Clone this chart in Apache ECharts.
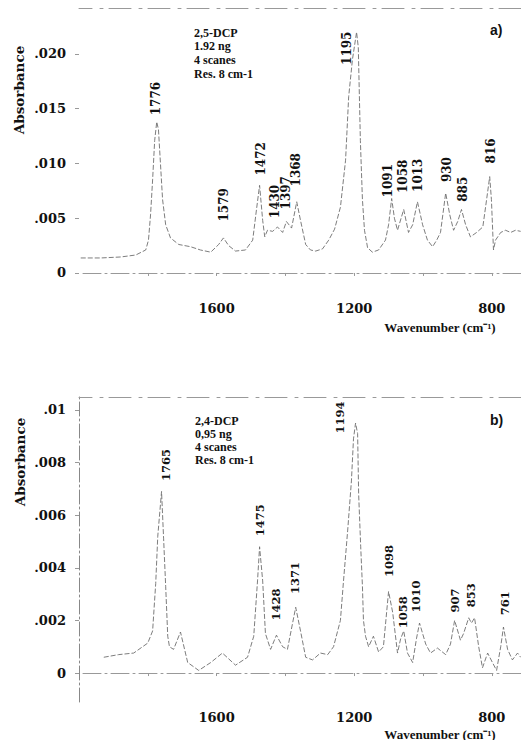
<!DOCTYPE html>
<html><head><meta charset="utf-8">
<script src="https://cdn.jsdelivr.net/npm/echarts@6/dist/echarts.min.js"></script>
<style>html,body{margin:0;padding:0;background:#fff}#c{width:521px;height:740px}</style>
</head><body><div id="c"></div>
<script>
// ---- Panel a) 2,5-DCP ----
const wavenumbersA = [1995,1937,1879,1835,1806,1798,1792,1786,1780,1774,1769,1763,1757,1748,1734,1710,1676,1647,1617,1594,1580,1565,1545,1516,1495,1484,1475,1466,1460,1452,1437,1423,1408,1397,1382,1367,1356,1341,1327,1312,1292,1274,1257,1240,1225,1216,1205,1193,1188,1182,1176,1170,1161,1147,1129,1109,1100,1091,1083,1074,1056,1042,1030,1016,1001,987,972,960,949,934,922,911,899,888,876,862,844,826,815,806,801,795,789,774,760,745,731,716];
const absorbanceA = [0.00137,0.00137,0.00146,0.00164,0.0021,0.003,0.0053,0.0085,0.0121,0.0138,0.0131,0.0099,0.0067,0.0044,0.0032,0.0026,0.0024,0.0021,0.0019,0.0026,0.0032,0.0025,0.002,0.0021,0.003,0.0058,0.008,0.0048,0.0033,0.0039,0.0038,0.0042,0.0037,0.0047,0.0041,0.0065,0.0048,0.0026,0.0021,0.002,0.0022,0.003,0.004,0.006,0.0103,0.0161,0.0195,0.022,0.0206,0.0121,0.0067,0.0039,0.0023,0.0019,0.0021,0.003,0.0044,0.0068,0.005,0.0039,0.0058,0.0037,0.0044,0.0065,0.0044,0.003,0.0024,0.003,0.0037,0.0073,0.0053,0.0039,0.0047,0.0058,0.0044,0.0033,0.0037,0.0042,0.0067,0.0088,0.0067,0.0021,0.003,0.0037,0.0039,0.0037,0.0039,0.0038];
const peakLabelsA = ['1776','1579','1472','1430','1397','1368','1195','1091','1058','1013','930','885','816'];
const peakLabelBaseA = [0.0144,0.0047,0.0089,0.005,0.0058,0.0079,0.019,0.0069,0.0073,0.0074,0.0083,0.0065,0.01];
const yTicksA = [0,0.005,0.01,0.015,0.02];
const yTickLabelsA = ['0','.005','.010','.015','.020'];
const infoA = ['2,5-DCP','1.92 ng','4 scanes','Res. 8 cm-1'];

// ---- Panel b) 2,4-DCP ----
const wavenumbersB = [1928,1885,1841,1800,1786,1777,1771,1760,1754,1748,1742,1737,1725,1705,1684,1652,1617,1583,1545,1510,1492,1481,1475,1466,1458,1443,1426,1408,1394,1379,1370,1356,1341,1321,1298,1277,1260,1240,1231,1219,1208,1202,1196,1190,1187,1181,1176,1173,1167,1158,1144,1129,1115,1100,1088,1074,1065,1056,1045,1030,1019,1010,992,978,958,934,920,908,891,882,867,859,850,838,827,812,798,786,774,766,754,740,725,716];
const absorbanceB = [0.0006,0.0007,0.00076,0.00114,0.0016,0.0034,0.0052,0.0069,0.0051,0.0033,0.0014,0.001,0.0009,0.00156,0.0004,0.0001,0.0004,0.00076,0.0003,0.0006,0.0014,0.0035,0.0048,0.0035,0.0015,0.0009,0.00144,0.001,0.0009,0.0019,0.0025,0.0016,0.0006,0.0005,0.00076,0.0007,0.001,0.002,0.0035,0.0054,0.0073,0.0089,0.0095,0.0091,0.0068,0.0048,0.0033,0.002,0.0014,0.001,0.0014,0.0008,0.001,0.0031,0.0023,0.00076,0.0013,0.0016,0.00076,0.0004,0.0013,0.0019,0.0011,0.00076,0.00095,0.0007,0.0011,0.002,0.00125,0.0015,0.0021,0.0019,0.0021,0.001,0.0002,0.00076,0.0004,0.0001,0.001,0.00175,0.0009,0.0005,0.00076,0.0006];
const peakLabelsB = ['1765','1475','1428','1371','1194','1098','1058','1010','907','853','761'];
const peakLabelBaseB = [0.0073,0.0052,0.002,0.003,0.0091,0.00365,0.0017,0.0023,0.0023,0.0025,0.0022];
const yTicksB = [0,0.002,0.004,0.006,0.008,0.01];
const yTickLabelsB = ['0','.002','.004','.006','.008','.01'];
const infoB = ['2,4-DCP','0,95 ng','4 scanes','Res. 8 cm-1'];

// ---- shared x axis ----
const xTicks = [1800,1600,1400,1200,1000,800];
const xTickValues = [1600,1200,800];
const xTickLabels = ['1600','1200','800'];

// ---- layout / style (not data) ----
const labelShiftA = {'1195': -9, '1091': -4, '816': 5};
const labelShiftB = {'1765': 6, '1194': -16, '1010': -4, '853': -3};
const serif = '"DejaVu Serif", serif';
const tnr = '"Liberation Serif", serif';

const chart = echarts.init(document.getElementById('c'), null, {renderer: 'svg'});

function xAxisCfg(gi) {
  return {
    type: 'value', gridIndex: gi, inverse: true, min: 715, max: 2000,
    splitLine: {show: false},
    axisLine: {show: true, lineStyle: {color: '#999', width: 1, type: [18, 4, 2, 4]}},
    axisTick: {show: true, customValues: xTicks, length: 3, lineStyle: {color: '#999'}},
    axisLabel: {customValues: xTickValues, margin: 9, color: '#111',
      fontFamily: serif, fontWeight: 'bold', fontSize: 13,
      formatter: v => xTickLabels[xTickValues.indexOf(v)] ?? ''}
  };
}
function xTopCfg(gi) {
  return {
    type: 'value', gridIndex: gi, inverse: true, min: 715, max: 2000, position: 'top',
    splitLine: {show: false}, axisTick: {show: false}, axisLabel: {show: false},
    axisLine: {show: true, lineStyle: {color: '#999', width: 1, type: [22, 6, 3, 8]}}
  };
}
function yAxisCfg(gi, min, max, ticks, labels, showLine) {
  return {
    type: 'value', gridIndex: gi, min: min, max: max,
    splitLine: {show: false},
    axisLine: {show: showLine, lineStyle: {color: '#888', width: 1, type: [14, 3, 2, 3]}},
    axisTick: {show: true, customValues: ticks, length: 4, lineStyle: {color: '#999'}},
    axisLabel: {customValues: ticks, margin: 13, color: '#111',
      fontFamily: serif, fontWeight: 'bold', fontSize: 13,
      formatter: v => { const i = ticks.findIndex(t => Math.abs(t - v) < 1e-9); return i >= 0 ? labels[i] : ''; }}
  };
}

const lineStyle = {color: '#6e6e6e', width: 0.9, type: [5, 2]};

chart.setOption({
  animation: false,
  backgroundColor: '#fff',
  grid: [
    {left: 79, top: 8, width: 442, height: 285},
    {left: 79, top: 397, width: 442, height: 305}
  ],
  xAxis: [xAxisCfg(0), xTopCfg(0), xAxisCfg(1), xTopCfg(1)],
  yAxis: [
    yAxisCfg(0, -0.00183, 0.0242, yTicksA, yTickLabelsA, false),
    yAxisCfg(1, -0.0011, 0.01049, yTicksB, yTickLabelsB, true)
  ],
  series: [
    {type: 'line', xAxisIndex: 0, yAxisIndex: 0, symbol: 'none', lineStyle: lineStyle,
      data: wavenumbersA.map((w, i) => [w, absorbanceA[i]])},
    {type: 'line', xAxisIndex: 2, yAxisIndex: 1, symbol: 'none', lineStyle: lineStyle,
      data: wavenumbersB.map((w, i) => [w, absorbanceB[i]])}
  ]
});

const graphics = [];
function addPeakLabels(gi, labels, bases, shifts, font) {
  labels.forEach((t, i) => {
    const p = chart.convertToPixel({xAxisIndex: gi * 2, yAxisIndex: gi}, [Number(t), bases[i]]);
    graphics.push({type: 'text', x: p[0] + (shifts[t] || 0), y: p[1], rotation: Math.PI / 2,
      style: {text: t, font: font, fill: '#111', align: 'left', verticalAlign: 'middle'}});
  });
}
addPeakLabels(0, peakLabelsA, peakLabelBaseA, labelShiftA, 'bold 12px ' + serif);
addPeakLabels(1, peakLabelsB, peakLabelBaseB, labelShiftB, 'bold 11.5px ' + serif);

graphics.push(
  {type: 'text', x: 194, y: 26, style: {text: infoA.join('\n'), font: 'bold 12px ' + tnr, lineHeight: 13.6, fill: '#111'}},
  {type: 'text', x: 195, y: 415, style: {text: infoB.join('\n'), font: 'bold 12px ' + tnr, lineHeight: 12.8, fill: '#111'}},
  {type: 'text', x: 490, y: 30, style: {text: 'a)', font: 'bold 14px "Liberation Sans", sans-serif', fill: '#111', verticalAlign: 'middle'}},
  {type: 'text', x: 490, y: 420, style: {text: 'b)', font: 'bold 14px "Liberation Sans", sans-serif', fill: '#111', verticalAlign: 'middle'}},
  {type: 'text', x: 19, y: 90, rotation: Math.PI / 2, style: {text: 'Absorbance', font: 'bold 13.5px ' + serif, fill: '#111', align: 'center', verticalAlign: 'middle'}},
  {type: 'text', x: 20, y: 462, rotation: Math.PI / 2, style: {text: 'Absorbance', font: 'bold 13.5px ' + serif, fill: '#111', align: 'center', verticalAlign: 'middle'}},
  {type: 'text', x: 440, y: 327, style: {text: 'Wavenumber (cm\u207B\u00B9)', font: 'bold 13px ' + tnr, fill: '#111', align: 'center', verticalAlign: 'middle'}},
  {type: 'text', x: 440, y: 734, style: {text: 'Wavenumber (cm\u207B\u00B9)', font: 'bold 13px ' + tnr, fill: '#111', align: 'center', verticalAlign: 'middle'}}
);
chart.setOption({graphic: graphics});
</script>
</body></html>
